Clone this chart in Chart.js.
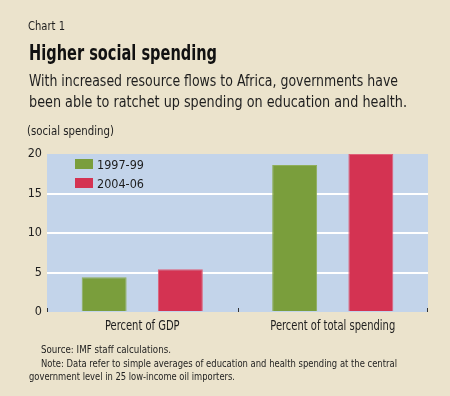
<!DOCTYPE html>
<html>
<head>
<meta charset="utf-8">
<script src="https://cdn.jsdelivr.net/npm/chart.js@4.4.1/dist/chart.umd.min.js"></script>
<style>
  body { margin: 0; background: #ebe3cc; }
  #wrap { position: relative; width: 450px; height: 396px; background: #ebe3cc; overflow: hidden;
    font-family: 'DejaVu Sans Condensed', 'Liberation Sans', sans-serif; color: #1e1e1e; }
  .t { position: absolute; white-space: nowrap; line-height: 1; transform-origin: 0 0; }
  canvas { position: absolute; left: 0; top: 0; }
</style>
</head>
<body>
<div id="wrap">
  <canvas id="myChart" width="450" height="396"></canvas>
  <div class="t" data-w="37" style="left:28px;top:20.4px;font-size:12.5px;">Chart 1</div>
  <div class="t" data-w="188" style="left:29px;top:42.7px;font-size:20.5px;font-weight:bold;color:#111;">Higher social spending</div>
  <div class="t" data-w="369" style="left:29px;top:73px;font-size:16.5px;">With increased resource flows to Africa, governments have</div>
  <div class="t" data-w="378" style="left:29px;top:94px;font-size:16.5px;">been able to ratchet up spending on education and health.</div>
  <div class="t" data-w="87" style="left:27px;top:125.4px;font-size:12.5px;">(social spending)</div>
  <div class="t" data-w="130" style="left:41px;top:344.1px;font-size:10.5px;">Source: IMF staff calculations.</div>
  <div class="t" data-w="356" style="left:41px;top:357.6px;font-size:10.5px;">Note: Data refer to simple averages of education and health spending at the central</div>
  <div class="t" data-w="206" style="left:29px;top:371.1px;font-size:10.5px;">government level in 25 low-income oil importers.</div>
</div>
<script>
'use strict';

let categories = ['Percent of GDP', 'Percent of total spending'];
let seriesNames = ['1997-99', '2004-06'];
let values9799 = [4.4, 18.6];
let values0406 = [5.4, 20.0];
let yTicks = [0, 5, 10, 15, 20];

let fontFamily = "'DejaVu Sans Condensed', 'Liberation Sans', sans-serif";

// squeeze the html texts to the widths of the condensed face in the original
let texts = document.querySelectorAll('.t');
for (let i = 0; i < texts.length; i++) {
  let w = texts[i].getBoundingClientRect().width;
  let target = Number(texts[i].dataset.w);
  texts[i].style.transform = 'scaleX(' + (target / w) + ')';
}

// light blue plot area behind the bars
const plotBg = {
  id: 'plotBg',
  beforeDraw(chart) {
    let ctx = chart.ctx;
    let a = chart.chartArea;
    ctx.save();
    ctx.fillStyle = '#c3d4ea';
    ctx.fillRect(a.left, a.top, a.right - a.left, a.bottom - a.top);
    ctx.restore();
  }
};

// small marks between categories, condensed category labels, legend
const extras = {
  id: 'extras',
  afterDatasetsDraw(chart) {
    let ctx = chart.ctx;
    let a = chart.chartArea;
    let x = chart.scales.x;
    ctx.save();
    ctx.strokeStyle = '#333';
    ctx.lineWidth = 1;
    let half = (x.getPixelForValue(1) - x.getPixelForValue(0)) / 2;
    for (let i = 0; i <= categories.length; i++) {
      let px = Math.round(x.getPixelForValue(0) - half + i * half * 2) + 0.5;
      if (i === categories.length) px -= 1;
      ctx.beginPath();
      ctx.moveTo(px, a.bottom - 4);
      ctx.lineTo(px, a.bottom);
      ctx.stroke();
    }

    ctx.fillStyle = '#1e1e1e';
    ctx.font = '13.5px ' + fontFamily;
    ctx.textAlign = 'center';
    ctx.textBaseline = 'alphabetic';
    for (let i = 0; i < categories.length; i++) {
      ctx.save();
      ctx.translate(x.getPixelForValue(i), a.bottom + 17.5);
      ctx.scale(0.82, 1);
      ctx.fillText(categories[i], 0, 0);
      ctx.restore();
    }

    ctx.font = '12.5px ' + fontFamily;
    ctx.textAlign = 'left';
    chart.data.datasets.forEach(function (ds, i) {
      let top = a.top + 5 + i * 19;
      ctx.fillStyle = ds.backgroundColor;
      ctx.fillRect(a.left + 28, top, 18, 10);
      ctx.fillStyle = '#1e1e1e';
      ctx.fillText(ds.label, a.left + 50, top + 9.5);
    });
    ctx.restore();
  }
};

let canvasChart = document.getElementById('myChart').getContext('2d');

const data = {
  labels: categories,
  datasets: [{
    label: seriesNames[0],
    data: values9799,
    backgroundColor: '#7a9e3c',
    borderColor: '#8fae5a',
    borderWidth: 1,
    categoryPercentage: 0.8,
    barPercentage: 0.59
  },
  {
    label: seriesNames[1],
    data: values0406,
    backgroundColor: '#d43352',
    borderColor: '#df6079',
    borderWidth: 1,
    categoryPercentage: 0.8,
    barPercentage: 0.59
  }]
};

const config = {
  type: 'bar',
  data: data,
  options: {
    responsive: false,
    animation: false,
    layout: { padding: { top: 154, right: 22, bottom: 0, left: 0 } },
    plugins: { legend: { display: false }, tooltip: { enabled: false } },
    scales: {
      x: {
        grid: { display: false, drawTicks: false },
        border: { display: false },
        ticks: { display: false },
        afterFit(scale) { scale.height = 84; }
      },
      y: {
        min: 0,
        max: 20,
        afterBuildTicks(scale) { scale.ticks = yTicks.map(v => ({ value: v })); },
        grid: {
          color: c => (c.tick && c.tick.value > 0 && c.tick.value < 20) ? '#ffffff' : 'rgba(0,0,0,0)',
          lineWidth: 2,
          drawTicks: false
        },
        border: { display: false },
        ticks: { color: '#1e1e1e', font: { family: fontFamily, size: 12.5 }, padding: 5 },
        afterFit(scale) { scale.width = 47; }
      }
    }
  },
  plugins: [plotBg, extras]
};

// eslint-disable-next-line no-unused-vars, no-undef
const myChart = new Chart(canvasChart, config);
</script>
</body>
</html>
